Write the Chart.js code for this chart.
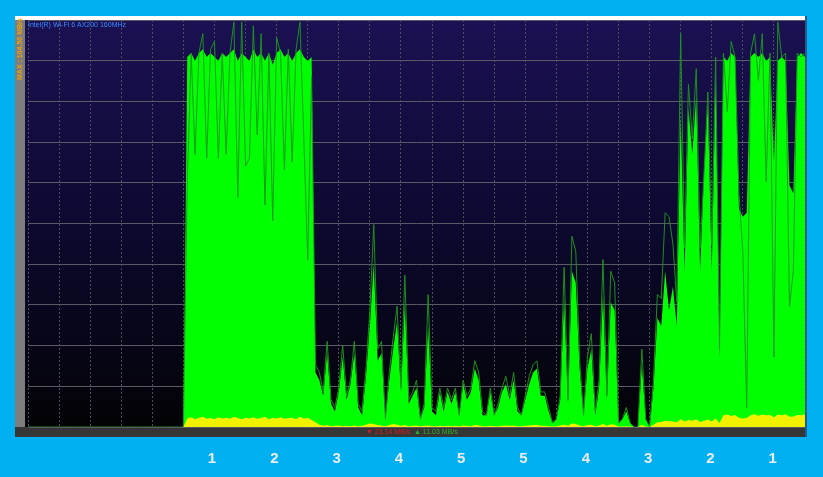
<!DOCTYPE html>
<html>
<head>
<meta charset="utf-8">
<title>Wi-Fi throughput</title>
<script src="https://cdn.jsdelivr.net/npm/chart.js@4.4.1/dist/chart.umd.min.js"></script>
<style>
  html, body { margin: 0; padding: 0; background: #00b0f0; width: 823px; height: 477px; overflow: hidden; }
  #wrap { position: relative; width: 823px; height: 477px; }
  #speed-chart { position: absolute; left: 0; top: 0; }
  .zone { position: absolute; top: 449px; transform: translateX(-50%); font: bold 15px "Liberation Sans", Arial, sans-serif; color: #ececec; }
</style>
</head>
<body>
<div id="wrap">
  <canvas id="speed-chart" width="823" height="477"></canvas>
</div>
<script>
// one sample every few seconds, 201 samples across the graph
const adapterName = 'Intel(R) Wi-Fi 6 AX200 160MHz';
const maxLabel = 'MAX : 104.50 MB/s';
const downStatus = '\u25BC 23.14 MB/s';
const upStatus = '\u25B2 11.03 MB/s';
const zoneLabels = ['1', '2', '3', '4', '5', '5', '4', '3', '2', '1'];

// raw download trace (MB/s) - the thin dark green line
const downloadRaw = [
  0,0,0,0,0,0,0,0,0,0, 0,0,0,0,0,0,0,0,0,0, 0,0,0,0,0,0,0,0,0,0, 0,0,0,0,0,0,0,0,0,0, 0,
  63,96,70,96,101,69,97,99,69,96,70,96,104,59,104,67,69,103,75,101,57,96,53,100,96,66,97,68,97,104,74,43,90,
  16,14,9,22,7,5,10,21,8,12,22,6,4,15,30,52,20,22,2,14,23,31,10,39,7,9,12,2,6,34,5,4,10,
  5,10,7,10,3,12,8,10,17,14,4,3,10,3,6,10,13,8,14,5,3,8,13,16,17,9,9,5,1,2,8,
  41,7,49,45,17,3,18,24,4,12,43,8,40,37,1,2,5,1,0,0,20,2,0,12,34,33,55,54,47,32,
  101,46,88,74,92,46,65,86,47,95,20,96,81,99,95,60,45,5,96,101,89,101,63,96,18,104,95,96,31,40,96,95,96
];

// averaged download (MB/s) - the bright green area
const downloadAvg = [
  0,0,0,0,0,0,0,0,0,0, 0,0,0,0,0,0,0,0,0,0, 0,0,0,0,0,0,0,0,0,0, 0,0,0,0,0,0,0,0,0,0, 0,
  95,96,94,96,97,95,96,95,94,96,95,96,97,94,96,95,94,97,95,96,94,96,93,96,97,95,96,94,96,97,95,94,95,
  14,12,8,19,6,4,9,18,7,11,19,5,3,13,26,42,17,19,2,12,20,27,9,32,6,8,10,2,5,26,4,3,9,
  4,9,6,9,3,11,7,9,15,12,3,3,9,3,5,9,11,7,12,4,3,7,11,14,15,8,8,4,1,2,7,
  33,6,40,37,15,3,15,20,3,10,34,7,32,30,1,2,4,1,0,0,16,2,0,10,28,26,40,30,36,26,
  80,40,82,70,85,40,65,83,40,90,18,95,94,96,95,56,54,55,95,96,95,96,94,95,68,94,95,94,62,60,95,96,95
];

// upload (MB/s) - yellow area
const upload = [
  0,0,0,0,0,0,0,0,0,0, 0,0,0,0,0,0,0,0,0,0, 0,0,0,0,0,0,0,0,0,0, 0,0,0,0,0,0,0,0,0,0, 0,
  2.2,2.5,2.0,2.4,2.6,2.1,2.3,2.0,2.5,2.2,2.4,2.1,2.6,2.3,2.0,2.4,2.2,2.5,2.1,2.3,2.6,2.0,2.4,2.2,2.5,2.1,2.3,2.4,2.0,2.6,2.2,2.4,1.8,
  1.2,0.6,0.3,0.5,0.2,0.3,0.4,0.2,0.3,0.2,0.4,0.2,0.3,0.6,0.9,0.8,0.5,0.4,0.2,0.5,0.8,0.6,0.3,0.5,0.2,0.3,0.4,0.2,0.3,0.4,0.2,0.2,0.3,
  0.2,0.3,0.2,0.3,0.2,0.4,0.3,0.2,0.5,0.4,0.2,0.2,0.3,0.2,0.2,0.3,0.4,0.3,0.4,0.2,0.2,0.3,0.4,0.5,0.5,0.3,0.3,0.2,0.1,0.2,0.4,
  0.6,0.3,0.9,0.8,0.4,0.2,0.5,0.6,0.2,0.4,0.8,0.3,0.7,0.6,0.1,0.1,0.2,0.1,0,0,0.5,0.1,0,0.6,1.2,1.3,1.6,1.5,1.4,1.2,
  2.0,1.4,1.8,1.6,2.0,1.3,1.6,1.9,1.4,2.2,1.0,3.0,3.2,2.8,3.1,2.4,2.2,2.3,3.0,3.3,2.9,3.2,3.0,3.1,2.5,3.2,3.0,3.3,2.6,2.7,3.1,3.0,3.2
];

const axisMax = 104.5;

function toPoints(values) {
  return values.map((v, i) => ({ x: i, y: v }));
}

// the frame round the graph: gradient, grey strip, white top line, status bar
const panelDecor = {
  id: 'panelDecor',
  beforeDraw(chart) {
    const { ctx, chartArea: a } = chart;
    ctx.save();
    const grad = ctx.createLinearGradient(0, a.top, 0, a.bottom);
    grad.addColorStop(0, '#1b1153');
    grad.addColorStop(0.5, '#0d0930');
    grad.addColorStop(1, '#030306');
    ctx.fillStyle = grad;
    ctx.fillRect(a.left - 3, a.top, a.right - a.left + 3, a.bottom - a.top);

    ctx.fillStyle = '#7d7d7d';
    ctx.fillRect(15, a.top, 10, a.bottom - a.top);

    ctx.fillStyle = '#ffffff';
    ctx.fillRect(15, 16, a.right - 15, 4);

    ctx.fillStyle = '#363636';
    ctx.fillRect(15, a.bottom, a.right - 15 + 2, 10);

    ctx.fillStyle = '#17609a';
    ctx.fillRect(a.right, 16, 2, a.bottom + 10 - 16);
    ctx.restore();
  },
  afterDraw(chart) {
    const { ctx, chartArea: a } = chart;
    ctx.save();
    ctx.textBaseline = 'middle';
    ctx.textAlign = 'left';

    ctx.font = '7px "Liberation Sans", Arial, sans-serif';
    ctx.fillStyle = '#3b8cff';
    ctx.fillText(adapterName, 28, a.top + 5);

    ctx.save();
    ctx.translate(20, 80);
    ctx.rotate(-Math.PI / 2);
    ctx.font = 'bold 7px "Liberation Sans", Arial, sans-serif';
    ctx.fillStyle = '#efa20c';
    ctx.fillText(maxLabel, 0, 0);
    ctx.restore();

    ctx.font = '7px "Liberation Sans", Arial, sans-serif';
    ctx.fillStyle = '#d81c1c';
    ctx.fillText(downStatus, 366, a.bottom + 5);
    ctx.fillStyle = '#2cb42c';
    ctx.fillText(upStatus, 414, a.bottom + 5);
    ctx.restore();
  }
};

const ctx = document.getElementById('speed-chart').getContext('2d');

new Chart(ctx, {
  type: 'line',
  data: {
    datasets: [
      {
        label: 'Upload',
        data: toPoints(upload),
        fill: 'origin',
        backgroundColor: '#f2f200',
        borderColor: 'rgba(0,0,0,0)',
        borderWidth: 0,
        pointRadius: 0,
        order: 0
      },
      {
        label: 'Download',
        data: toPoints(downloadRaw),
        fill: false,
        borderColor: 'rgba(28,150,28,0.95)',
        borderWidth: 1,
        pointRadius: 0,
        order: 1
      },
      {
        label: 'Download avg',
        data: toPoints(downloadAvg),
        fill: 'origin',
        backgroundColor: '#00ff00',
        borderColor: 'rgba(0,0,0,0)',
        borderWidth: 0,
        pointRadius: 0,
        order: 2
      }
    ]
  },
  options: {
    responsive: false,
    animation: false,
    events: [],
    layout: { padding: { left: 28, top: 20, right: 18, bottom: 50 } },
    elements: { line: { tension: 0 } },
    plugins: {
      legend: { display: false },
      tooltip: { enabled: false }
    },
    scales: {
      x: {
        type: 'linear',
        min: 0,
        max: 200,
        ticks: { display: false, stepSize: 8 },
        grid: { color: '#4d4d5e', drawTicks: false },
        border: { display: false, dash: [2, 2] }
      },
      y: {
        min: 0,
        max: axisMax,
        ticks: { display: false, count: 11 },
        grid: { color: '#5a5a66', drawTicks: false },
        border: { display: false }
      }
    }
  },
  plugins: [panelDecor]
});

// zone numbers under the graph
const wrap = document.getElementById('wrap');
zoneLabels.forEach((txt, k) => {
  const el = document.createElement('div');
  el.className = 'zone';
  el.textContent = txt;
  el.style.left = (212 + k * 62.3) + 'px';
  wrap.appendChild(el);
});
</script>
</body>
</html>
